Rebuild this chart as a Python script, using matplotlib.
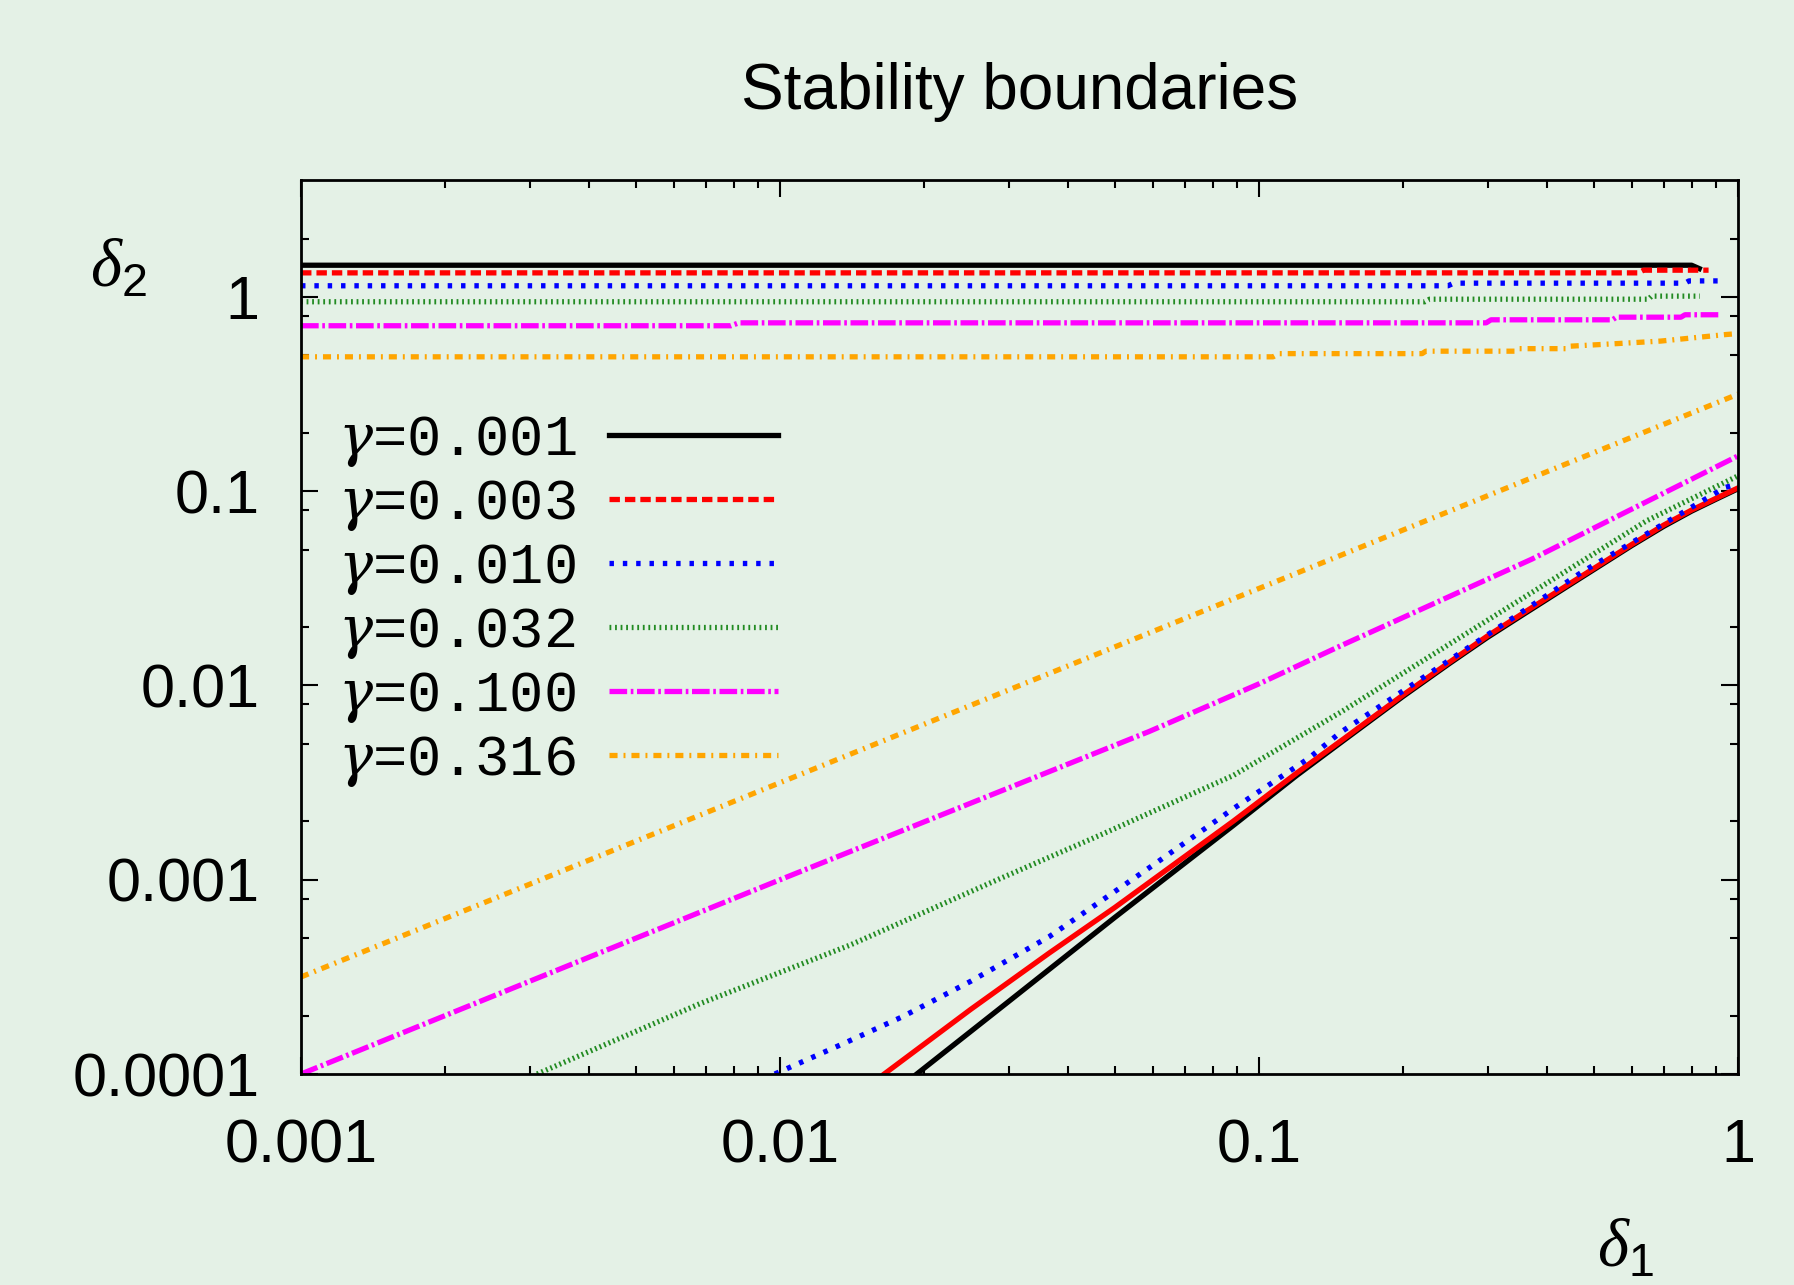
import matplotlib
matplotlib.use('Agg')
import matplotlib.pyplot as plt
from matplotlib.ticker import LogLocator, NullFormatter

# fonts: gnuplot-like look
plt.rcParams['font.family'] = ['Liberation Sans', 'DejaVu Sans']
plt.rcParams['mathtext.fontset'] = 'custom'
plt.rcParams['mathtext.it'] = 'DejaVu Serif:italic'      # gamma
plt.rcParams['mathtext.sf'] = 'Liberation Serif:italic'  # delta
plt.rcParams['mathtext.rm'] = 'Liberation Sans'
plt.rcParams['lines.scale_dashes'] = False

# data
gammas = ['0.001', '0.003', '0.010', '0.032', '0.100', '0.316']

# upper (near flat) branches
d1_up_001 = [0.001, 0.80, 0.83]
d2_up_001 = [1.457, 1.457, 1.40]
d1_up_003 = [0.001, 0.62, 0.635, 0.868]
d2_up_003 = [1.331, 1.331, 1.374, 1.374]
d1_up_010 = [0.001, 0.248, 0.255, 0.775, 0.79, 0.945]
d2_up_010 = [1.142, 1.142, 1.178, 1.178, 1.21, 1.21]
d1_up_032 = [0.001, 0.222, 0.227, 0.65, 0.66, 0.832]
d2_up_032 = [0.945, 0.945, 0.974, 0.974, 1.01, 1.01]
d1_up_100 = [0.001, 0.0079, 0.0082, 0.298, 0.305, 0.547, 0.557, 0.76, 0.775, 0.91]
d2_up_100 = [0.711, 0.711, 0.736, 0.736, 0.763, 0.763, 0.787, 0.787, 0.81, 0.81]
d1_up_316 = [0.001, 0.107, 0.11, 0.219, 0.223, 0.343, 0.349, 0.438, 0.446,
             0.57, 0.69, 0.784, 0.945, 1.0]
d2_up_316 = [0.492, 0.492, 0.511, 0.511, 0.526, 0.526, 0.542, 0.542, 0.558,
             0.577, 0.593, 0.612, 0.641, 0.648]

# lower (rising) branches
d1_lo_001 = [0.0193, 0.03, 0.05, 0.0883, 0.12, 0.15, 0.2, 0.25, 0.3, 0.36,
             0.45, 0.6, 0.7, 0.8, 0.9, 1.0]
d2_lo_001 = [1e-4, 2.36e-4, 6.4e-4, 1.9e-3, 3.45e-3, 5.2e-3, 8.8e-3, 1.30e-2,
             1.77e-2, 2.36e-2, 3.35e-2, 5.25e-2, 6.6e-2, 7.9e-2, 9.1e-2, 0.103]
d1_lo_003 = [0.0165, 0.025, 0.0365, 0.05, 0.0883, 0.12, 0.15, 0.2, 0.25, 0.3,
             0.36, 0.45, 0.6, 0.7, 0.8, 0.9, 1.0]
d2_lo_003 = [1e-4, 2.15e-4, 4.2e-4, 7.2e-4, 2.0e-3, 3.55e-3, 5.3e-3, 8.95e-3,
             1.32e-2, 1.80e-2, 2.40e-2, 3.40e-2, 5.32e-2, 6.7e-2, 8.0e-2,
             9.2e-2, 0.104]
d1_lo_010 = [0.00975, 0.0137, 0.018, 0.025, 0.0365, 0.0607, 0.0883, 0.1265,
             0.148, 0.264, 0.471, 0.939, 1.0]
d2_lo_010 = [1e-4, 1.45e-4, 1.97e-4, 3.0e-4, 5.1e-4, 1.21e-3, 2.32e-3,
             4.19e-3, 5.74e-3, 1.48e-2, 3.82e-2, 0.1045, 0.109]
d1_lo_032 = [0.00311, 0.0068, 0.01397, 0.0287, 0.0464, 0.0883, 0.148, 0.371,
             0.644, 1.0]
d2_lo_032 = [1e-4, 2.30e-4, 4.6e-4, 1.01e-3, 1.69e-3, 3.44e-3, 7.28e-3,
             3.01e-2, 7.04e-2, 0.12]
d1_lo_100 = [0.001, 0.01, 0.059, 0.1, 0.148, 0.371, 1.0]
d2_lo_100 = [1e-4, 1e-3, 5.8e-3, 1.02e-2, 1.6e-2, 4.47e-2, 0.152]
d1_lo_316 = [0.001, 0.01, 0.1, 1.0]
d2_lo_316 = [3.16e-4, 3.16e-3, 3.16e-2, 0.316]

upper = [(d1_up_001, d2_up_001), (d1_up_003, d2_up_003), (d1_up_010, d2_up_010),
         (d1_up_032, d2_up_032), (d1_up_100, d2_up_100), (d1_up_316, d2_up_316)]
lower = [(d1_lo_001, d2_lo_001), (d1_lo_003, d2_lo_003), (d1_lo_010, d2_lo_010),
         (d1_lo_032, d2_lo_032), (d1_lo_100, d2_lo_100), (d1_lo_316, d2_lo_316)]

x_ticks = [0.001, 0.01, 0.1, 1]
x_labels = ['0.001', '0.01', '0.1', '1']
y_ticks = [0.0001, 0.001, 0.01, 0.1, 1]
y_labels = ['0.0001', '0.001', '0.01', '0.1', '1']

# styles
colors = ['black', 'red', 'blue', '#228b22', 'magenta', 'orange']
styles = ['-', (0, (7.5, 3.6)), (0, (3.2, 6.4)), (0, (1.3, 2.7)),
          (0, (12.7, 2.6, 1.9, 2.6)), (0, (5.8, 4.3, 1.4, 4.3))]
# the dense, jagged lower branches: red dashes merge into a solid line
styles_lo = ['-', '-', (0, (3.2, 6.4)), (0, (1.3, 2.2)),
             (0, (12.7, 2.6, 1.9, 2.6)), (0, (5.8, 4.3, 1.4, 4.3))]
bg = '#e4f1e6'
lw = 3.8

fig = plt.figure(figsize=(17.94, 12.85), dpi=100, facecolor=bg)
ax = fig.add_axes([0.1678, 0.1642, 0.801, 0.6957], facecolor=bg)
ax.set_xscale('log')
ax.set_yscale('log')

for i in range(len(gammas)):
    ax.plot(*upper[i], color=colors[i], linestyle=styles[i], lw=lw)
    ax.plot(*lower[i], color=colors[i], linestyle=styles_lo[i], lw=lw)

ax.set_xlim(0.001, 1)
ax.set_ylim(1e-4, 4)

ax.set_xticks(x_ticks)
ax.set_xticklabels(x_labels)
ax.set_yticks(y_ticks)
ax.set_yticklabels(y_labels)
ax.xaxis.set_minor_locator(LogLocator(base=10, subs=range(2, 10), numticks=100))
ax.yaxis.set_minor_locator(LogLocator(base=10, subs=(2, 5, 8), numticks=100))
ax.xaxis.set_minor_formatter(NullFormatter())
ax.yaxis.set_minor_formatter(NullFormatter())

ax.tick_params(which='both', direction='in', top=True, right=True, width=1.5)
ax.tick_params(which='major', length=12, labelsize=44)
ax.tick_params(which='minor', length=6)
ax.tick_params(axis='x', which='major', pad=32)
ax.tick_params(axis='y', which='major', pad=30)
for sp in ax.spines.values():
    sp.set_linewidth(2)

# legend drawn by hand (text first, line sample after)
row0 = 0.6924
step = 0.0716
for i, g in enumerate(gammas):
    yb = row0 - i * step
    ax.text(0.0256, yb, r'$\gamma$=' + g, transform=ax.transAxes,
            family='Liberation Mono', fontsize=41, va='baseline', ha='left')
    ax.plot([0.214, 0.332], [yb + 0.0229, yb + 0.0229], transform=ax.transAxes,
            color=colors[i], linestyle=styles[i], lw=lw)

fig.text(0.5683, 0.9154, 'Stability boundaries', fontsize=46,
         ha='center', va='baseline')
fig.text(119 / 1794, 1 - 269 / 1285, r'$\mathsf{\delta}_2$', fontsize=48,
         ha='center', va='center')
fig.text(1626 / 1794, 1 - 1218 / 1285, r'$\mathsf{\delta}_1$', fontsize=48,
         ha='center', va='top')

plt.savefig('out.png', dpi=100, facecolor=bg)
